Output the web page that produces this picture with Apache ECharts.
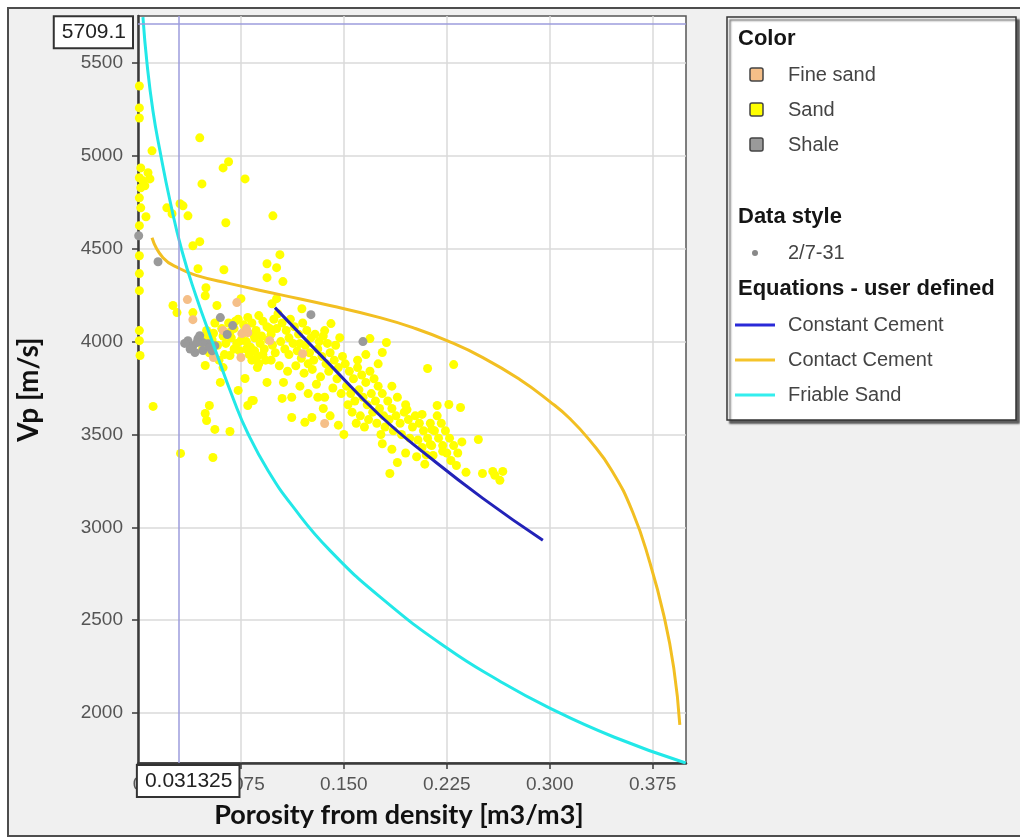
<!DOCTYPE html>
<html>
<head>
<meta charset="utf-8">
<title>Vp vs porosity</title>
<script src="https://cdn.jsdelivr.net/npm/echarts@6/dist/echarts.min.js"></script>
<style>
  html, body { margin: 0; padding: 0; background: #ffffff; }
  #chart { width: 1020px; height: 839px; }
</style>
</head>
<body>
<div id="chart"></div>
<script>
// ---- axis settings ----
const xTickStep = 0.075;
const yTickStep = 500;
const xRange = [0, 0.3993];
const yRange = [1731, 5753];
const xTickValues = [0, 0.075, 0.15, 0.225, 0.3, 0.375];
const yTickValues = [2000, 2500, 3000, 3500, 4000, 4500, 5000, 5500];

// ---- cursor read-out ----
const cursorPorosity = 0.031325;
const cursorVp = 5709.1;

// ---- legend groups ----
const colorClasses = ['Fine sand', 'Sand', 'Shale'];
const dataStyleNames = ['2/7-31'];
const equationNames = ['Constant Cement', 'Contact Cement', 'Friable Sand'];

// ---- measured points: [porosity, Vp] ----
const sandPoints = [
  // low-porosity column along the axis
  [0.001,5376],[0.001,5258],[0.001,5204],[0.002,4935],[0.001,4882],[0.002,4828],[0.001,4774],[0.002,4720],
  [0.001,4624],[0.001,4462],[0.001,4366],[0.001,4274],[0.001,4059],[0.001,4005],[0.0015,3925],
  // upper scatter
  [0.045,5097],[0.0102,5027],[0.062,4935],[0.066,4968],[0.078,4876],[0.0466,4849],[0.0036,4866],[0.0073,4909],
  [0.0087,4876],[0.005,4839],[0.021,4720],[0.0248,4688],[0.0306,4742],[0.0328,4731],[0.0058,4672],[0.0364,4677],
  [0.064,4640],[0.0983,4677],[0.040,4516],[0.045,4538],[0.1034,4468],[0.094,4419],[0.101,4398],[0.0437,4392],
  [0.0626,4387],[0.094,4344],[0.1056,4323],
  // around the curve crossing
  [0.049,4247],[0.0495,4290],[0.0575,4194],[0.075,4231],[0.0255,4194],[0.0284,4156],[0.040,4156],[0.049,4020],
  [0.055,4045],[0.050,4060],[0.054,4010],[0.058,3980],[0.061,4070],[0.056,4100],[0.047,3960],[0.052,3940],
  [0.063,3930],[0.059,3900],
  // lower left
  [0.049,3871],[0.062,3860],[0.067,3925],[0.087,3860],[0.078,3801],[0.060,3780],[0.094,3780],[0.073,3737],
  [0.011,3651],[0.052,3656],[0.049,3613],[0.050,3575],[0.083,3683],[0.080,3656],[0.056,3527],[0.067,3516],
  [0.031,3398],[0.0546,3376],[0.105,3694],[0.112,3591],[0.1216,3565],[0.1267,3591],[0.084,3683],
  // above the constant-cement trend
  [0.101,4231],[0.0976,4204],[0.1194,4177],[0.1406,4097],[0.136,4059],[0.147,4021],[0.169,4016],[0.181,3995],
  [0.178,3941],
  // right-hand scatter
  [0.211,3855],[0.230,3876],[0.218,3656],[0.2265,3661],[0.235,3645],[0.248,3473],[0.207,3608],[0.196,3634],
  [0.214,3527],[0.213,3446],[0.222,3409],[0.215,3387],[0.232,3333],[0.239,3296],[0.251,3290],[0.2585,3301],
  [0.26,3280],[0.2637,3253],[0.2658,3301],[0.189,3349],[0.1835,3290],
  // main cloud, porosity 0.06 - 0.10
  [0.066,4100],[0.070,4070],[0.073,4120],[0.077,4090],[0.080,4130],[0.083,4100],[0.086,4060],[0.088,4140],
  [0.091,4110],[0.094,4080],[0.097,4040],[0.099,4120],[0.068,4020],[0.072,3990],[0.076,4040],[0.079,4000],
  [0.082,3970],[0.085,4020],[0.089,3990],[0.092,3960],[0.095,4010],[0.098,3980],[0.074,3950],[0.081,3930],
  [0.087,3920],[0.093,3900],[0.100,3940],[0.070,3960],[0.064,3990],[0.062,4030],[0.067,4050],[0.071,4110],
  [0.075,4005],[0.078,4060],[0.084,4040],[0.090,4030],[0.096,4070],[0.085,3950],[0.091,3930],[0.079,3960],
  [0.097,3900],[0.088,3880],[0.083,3900],
  // main cloud, porosity 0.10 - 0.15
  [0.102,4150],[0.105,4100],[0.108,4060],[0.111,4120],[0.114,4080],[0.117,4040],[0.120,4100],[0.123,4060],
  [0.126,4020],[0.104,4000],[0.107,3960],[0.110,3930],[0.113,3990],[0.116,3950],[0.119,3910],[0.122,3980],
  [0.125,3940],[0.128,3900],[0.131,3960],[0.134,3920],[0.137,3880],[0.140,3940],[0.143,3900],[0.146,3860],
  [0.149,3920],[0.103,3870],[0.109,3840],[0.115,3870],[0.121,3830],[0.127,3850],[0.133,3810],[0.139,3840],
  [0.145,3800],[0.106,3780],[0.118,3760],[0.130,3770],[0.142,3750],[0.112,3700],[0.124,3720],[0.136,3700],
  [0.148,3720],[0.129,4040],[0.132,4000],[0.138,3990],[0.144,3980],[0.135,4030],[0.140,3600],[0.146,3550],
  [0.135,3640],[0.150,3500],[0.101,4070],[0.110,4020],[0.118,3990],[0.124,3880],[0.131,3700],
  // main cloud, porosity 0.15 - 0.20
  [0.151,3880],[0.154,3840],[0.157,3800],[0.160,3860],[0.163,3820],[0.166,3780],[0.169,3840],[0.172,3800],
  [0.175,3760],[0.178,3720],[0.152,3760],[0.155,3720],[0.158,3680],[0.161,3740],[0.164,3700],[0.167,3660],
  [0.170,3720],[0.173,3680],[0.176,3640],[0.179,3600],[0.182,3680],[0.185,3640],[0.188,3600],[0.191,3560],
  [0.194,3620],[0.197,3580],[0.200,3540],[0.156,3620],[0.162,3600],[0.168,3580],[0.174,3560],[0.180,3540],
  [0.186,3520],[0.192,3500],[0.198,3480],[0.153,3660],[0.159,3560],[0.165,3540],[0.171,3620],[0.177,3500],
  [0.183,3580],[0.189,3700],[0.195,3660],[0.160,3900],[0.166,3930],[0.175,3880],[0.185,3760],[0.185,3420],
  [0.195,3400],[0.178,3450],
  // main cloud, porosity 0.20 - 0.24
  [0.202,3600],[0.205,3560],[0.208,3520],[0.211,3480],[0.214,3440],[0.204,3470],[0.207,3430],[0.210,3390],
  [0.213,3560],[0.216,3520],[0.219,3480],[0.222,3440],[0.225,3400],[0.218,3600],[0.221,3560],[0.224,3520],
  [0.227,3480],[0.230,3440],[0.233,3400],[0.236,3460],[0.203,3380],[0.228,3360],[0.209,3340]
];

const fineSandPoints = [
  [0.036,4226],[0.072,4210],[0.040,4118],[0.062,4059],[0.0757,4043],[0.080,4048],[0.079,4070],[0.075,3914],
  [0.055,3914],[0.096,4005],[0.120,3935],[0.136,3559]
];

const shalePoints = [
  [0.0005,4570],[0.0146,4430],[0.126,4145],[0.1639,4000],[0.060,4129],[0.069,4086],[0.065,4038],
  [0.0364,4005],[0.040,3978],[0.0437,4016],[0.0473,3952],[0.051,3989],[0.045,4032],[0.0415,3941],
  [0.0524,3968],[0.056,3978],[0.038,3960],[0.047,3995],[0.043,3995],[0.034,3990],[0.054,3950]
];

// ---- rock-physics model curves: [porosity, Vp] ----
const constantCement = [
  [0.0998,4183],[0.1398,3876],[0.1763,3602],[0.2127,3376],[0.2513,3156],[0.2950,2930]
];
const contactCement = [
  [0.0102,4559],[0.0182,4452],[0.0306,4392],[0.0430,4355],[0.0670,4312],[0.1034,4253],[0.1398,4194],
  [0.1763,4129],[0.2003,4075],[0.2251,4005],[0.2513,3914],[0.2782,3796],[0.3001,3677],[0.3146,3586],
  [0.3292,3468],[0.3452,3306],[0.3605,3081],[0.3729,2812],[0.3831,2527],[0.3904,2242],[0.3948,1936]
];
const friableSand = [
  [0.0036,5747],[0.0066,5495],[0.0109,5242],[0.0160,5027],[0.0233,4758],[0.0320,4489],[0.0422,4247],
  [0.0539,4005],[0.0699,3683],[0.0801,3505],[0.0947,3306],[0.1122,3118],[0.1398,2876],[0.1792,2608],
  [0.2251,2350],[0.2622,2178],[0.2986,2032],[0.3467,1871],[0.3991,1731]
];

// ---- colours ----
const classColors = { 'Fine sand': '#f5bf88', 'Sand': '#ffff00', 'Shale': '#9a9a9a' };
const equationColors = { 'Constant Cement': '#2222b8', 'Contact Cement': '#f2bf22', 'Friable Sand': '#22e8e8' };
const legendLineColors = { 'Constant Cement': '#2a2ad8', 'Contact Cement': '#f5c42a', 'Friable Sand': '#33eeee' };

const isOnStep = (v, step) => Math.abs(v / step - Math.round(v / step)) < 1e-6;

// ---- frame and legend panel ----
const legendX = 738, textX = 788;
const legendEls = [
  { type: 'rect', z: -100, shape: { x: 8, y: 8, width: 1040, height: 828 },
    style: { fill: '#f0f0f0', stroke: '#4d4d4d', lineWidth: 2 } },
  { type: 'rect', z: 10, shape: { x: 727, y: 17, width: 289, height: 403 },
    style: { fill: '#ffffff', stroke: '#333', lineWidth: 1.5,
             shadowColor: 'rgba(0,0,0,0.6)', shadowOffsetX: 3, shadowOffsetY: 3, shadowBlur: 2 } }
];
function headText(txt, y) {
  return { type: 'text', z: 11, style: { text: txt, x: legendX, y: y, fill: '#151515',
    fontSize: 22, fontWeight: 'bold', fontFamily: 'Liberation Sans, Arial, sans-serif', verticalAlign: 'middle' } };
}
function itemText(txt, y) {
  return { type: 'text', z: 11, style: { text: txt, x: textX, y: y, fill: '#444',
    fontSize: 20, fontFamily: 'Liberation Sans, Arial, sans-serif', verticalAlign: 'middle' } };
}
legendEls.push(headText('Color', 39));
colorClasses.forEach((name, i) => {
  const y = 75 + i * 35;
  legendEls.push({ type: 'rect', z: 11, shape: { x: 750, y: y - 7, width: 13, height: 13, r: 2 },
    style: { fill: classColors[name], stroke: '#444', lineWidth: 1.5 } });
  legendEls.push(itemText(name, y));
});
legendEls.push(headText('Data style', 217));
dataStyleNames.forEach((name, i) => {
  const y = 253 + i * 35;
  legendEls.push({ type: 'circle', z: 11, shape: { cx: 755, cy: y, r: 3 }, style: { fill: '#888' } });
  legendEls.push(itemText(name, y));
});
legendEls.push(headText('Equations - user defined', 289));
equationNames.forEach((name, i) => {
  const y = 325 + i * 35;
  legendEls.push({ type: 'line', z: 11, shape: { x1: 735, y1: y, x2: 775, y2: y },
    style: { stroke: legendLineColors[name], lineWidth: 3 } });
  legendEls.push(itemText(name, y));
});

const chart = echarts.init(document.getElementById('chart'), null, { renderer: 'canvas' });

const scatterSeries = [
  { name: 'Sand', data: sandPoints },
  { name: 'Fine sand', data: fineSandPoints },
  { name: 'Shale', data: shalePoints }
].map(s => ({
  type: 'scatter', name: s.name, data: s.data, symbolSize: 9,
  itemStyle: { color: classColors[s.name], opacity: 1 }, z: 2, silent: true
}));

const curveData = { 'Constant Cement': constantCement, 'Contact Cement': contactCement, 'Friable Sand': friableSand };
const curveSeries = equationNames.map(name => ({
  type: 'line', name: name, data: curveData[name], smooth: 0.5, showSymbol: false,
  lineStyle: { color: equationColors[name], width: 3 }, z: 4, silent: true
}));

const cursorSeries = {
  type: 'line', name: 'cursor', data: [], z: 5, silent: true,
  markLine: {
    silent: true, symbol: 'none', animation: false,
    lineStyle: { color: '#9c9cdc', width: 1.5, type: 'solid' },
    label: {
      position: 'start', color: '#222', fontSize: 21,
      fontFamily: 'Liberation Sans, Arial, sans-serif',
      backgroundColor: '#ffffff', borderColor: '#333', borderWidth: 2, padding: [5, 6, 4, 7]
    },
    data: [
      { yAxis: cursorVp, label: { formatter: String(cursorVp), distance: 6, offset: [0, 8] } },
      { xAxis: cursorPorosity, label: { formatter: String(cursorPorosity), distance: 3, offset: [9, 0] } }
    ]
  }
};

chart.setOption({
  animation: false,
  backgroundColor: 'transparent',
  graphic: { elements: legendEls },
  grid: {
    left: 138, top: 16, right: 334, bottom: 76,
    show: true, backgroundColor: '#ffffff', borderColor: '#555', borderWidth: 1.5
  },
  xAxis: {
    type: 'value', min: xRange[0], max: xRange[1], interval: xTickStep,
    name: 'Porosity from density [m3/m3]', nameLocation: 'middle', nameGap: 39,
    nameTextStyle: { fontFamily: 'Lato', fontWeight: 'bold', fontSize: 27, color: '#111', padding: [0, 26, 0, 0] },
    axisLine: { show: true, onZero: false, lineStyle: { color: '#3a3a3a', width: 2.5 } },
    axisTick: { show: true, length: 6, customValues: xTickValues, lineStyle: { color: '#3a3a3a', width: 1.5 } },
    axisLabel: {
      margin: 12, color: '#555', fontSize: 19, fontFamily: 'Liberation Sans, Arial, sans-serif',
      customValues: xTickValues,
      formatter: v => (!isOnStep(v, xTickStep) ? '' : (v === 0 ? '0' : v.toFixed(3)))
    },
    splitLine: { show: true, lineStyle: { color: '#dadada', width: 1.5 } }
  },
  yAxis: {
    type: 'value', min: yRange[0], max: yRange[1], splitNumber: 8,
    name: 'Vp [m/s]', nameLocation: 'middle', nameGap: 95,
    nameTextStyle: { fontFamily: 'Lato', fontWeight: 'bold', fontSize: 28, color: '#111' },
    axisLine: { show: true, onZero: false, lineStyle: { color: '#3a3a3a', width: 2.5 } },
    axisTick: { show: true, length: 6, customValues: yTickValues, lineStyle: { color: '#3a3a3a', width: 1.5 } },
    axisLabel: {
      margin: 15, color: '#555', fontSize: 19, fontFamily: 'Liberation Sans, Arial, sans-serif',
      customValues: yTickValues,
      formatter: v => (isOnStep(v, yTickStep) ? String(v) : '')
    },
    splitLine: { show: true, lineStyle: { color: '#dadada', width: 1.5 } }
  },
  series: [...scatterSeries, ...curveSeries, cursorSeries]
});
</script>
</body>
</html>
